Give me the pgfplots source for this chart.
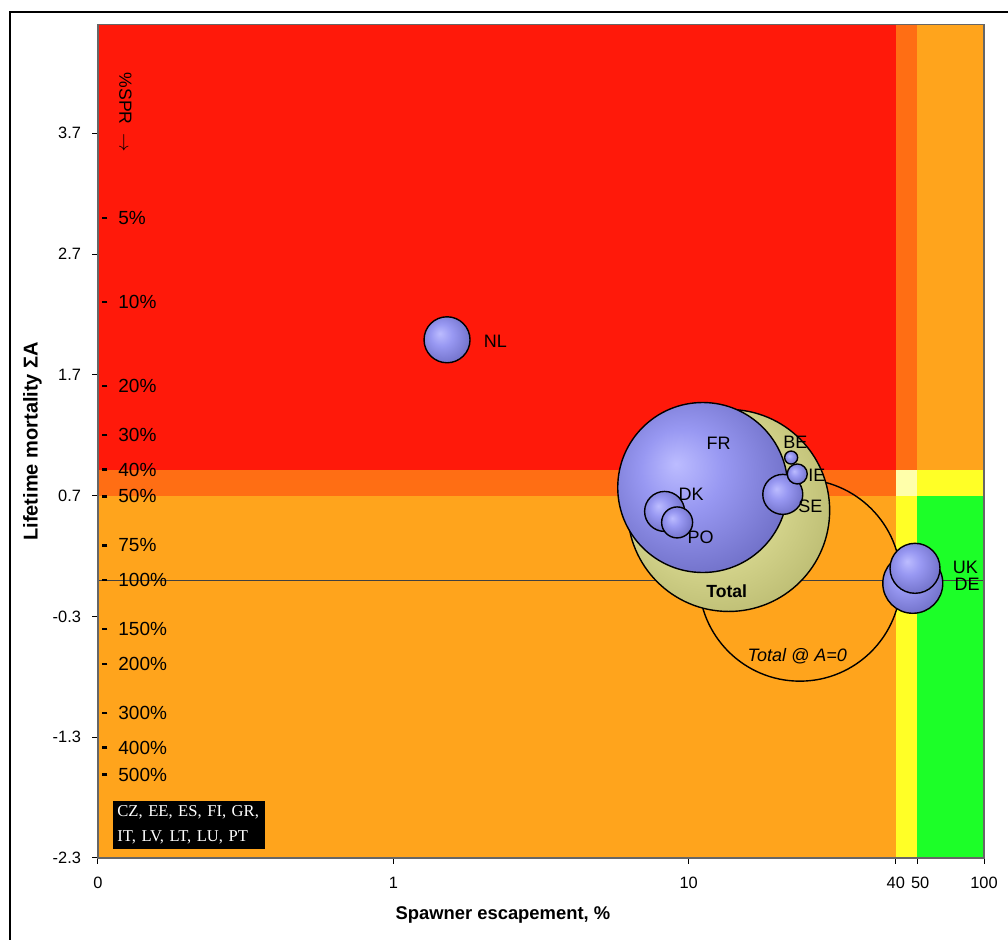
\documentclass[border=0pt]{standalone}
\usepackage{pgfplots}
\pgfplotsset{compat=1.18}
\usepackage{pgfplotstable}
\usepackage{fontspec}
\setmainfont{Liberation Sans}
\newfontfamily\boxserif{Liberation Serif}
\definecolor{cRed}{RGB}{255,25,10}
\definecolor{cOrRed}{RGB}{255,110,20}
\definecolor{cOrange}{RGB}{255,164,28}
\definecolor{cYellow}{RGB}{255,255,38}
\definecolor{cLtYellow}{RGB}{255,255,170}
\definecolor{cGreen}{RGB}{28,255,40}
\definecolor{bubHi}{RGB}{188,188,255}
\definecolor{bubMid}{RGB}{152,152,242}
\definecolor{bubEdge}{RGB}{112,112,200}
\definecolor{totHi}{RGB}{236,236,176}
\definecolor{totMid}{RGB}{220,220,148}
\definecolor{totEdge}{RGB}{186,186,112}
\pgfdeclareradialshading{bubshade}{\pgfpoint{-8bp}{7bp}}{%
  color(0bp)=(bubHi); color(12bp)=(bubMid); color(30bp)=(bubEdge); color(50bp)=(bubEdge)}
\pgfdeclareradialshading{totshade}{\pgfpoint{-8bp}{7bp}}{%
  color(0bp)=(totHi); color(14bp)=(totMid); color(32bp)=(totEdge); color(50bp)=(totEdge)}
\pgfdeclareplotmark{bubble}{%
  \pgfpathcircle{\pgfpointorigin}{\pgfplotmarksize}%
  \pgfshadepath{bubshade}{0}%
  \pgfusepath{discard}%
  \pgfsetlinewidth{0.7pt}\pgfsetstrokecolor{black}%
  \pgfpathcircle{\pgfpointorigin}{\pgfplotmarksize}%
  \pgfusepathqstroke}
\pgfdeclareplotmark{totbubble}{%
  \pgfpathcircle{\pgfpointorigin}{\pgfplotmarksize}%
  \pgfshadepath{totshade}{0}%
  \pgfusepath{discard}%
  \pgfsetlinewidth{0.7pt}\pgfsetstrokecolor{black}%
  \pgfpathcircle{\pgfpointorigin}{\pgfplotmarksize}%
  \pgfusepathqstroke}

% country bubbles: x = spawner escapement (%), y = lifetime mortality, r = bubble radius (pt)
\pgfplotstableread{
x      y      r
11.16  0.767  42.5
8.29   0.569  10
9.14   0.478  7.75
20.83  0.710  10
23.32  0.879  5
22.23  1.015  3.25
1.52   1.99   11.5
57.4  -0.026  15
58.4   0.098  12.5
}\bubbles

\begin{document}
\begin{tikzpicture}
\begin{axis}[
  scale only axis, width=443pt, height=416.75pt,
  xmode=log, xmin=0.1, xmax=100, ymin=-2.3, ymax=4.6,
  xtick={0.1,1,10,50.3,59.4,100},
  xticklabels={0,1,10,40,\hspace{3pt}50,100},
  ytick={-2.3,-1.3,-0.3,0.7,1.7,2.7,3.7},
  yticklabels={-2.3,-1.3,-0.3,0.7,1.7,2.7,3.7},
  xminorticks=false, yminorticks=false,
  tick align=outside, major tick length=3pt,
  xtick pos=bottom, ytick pos=left,
  tick style={black, line width=0.5pt},
  ticklabel style={font=\fontsize{8.2}{9}\selectfont},
  xticklabel style={yshift=-3pt},
  yticklabel style={xshift=-2pt},
  axis line style={draw=black!60, line width=0.6pt},
  axis on top,
  clip=false,
  clip marker paths=true,
  xlabel={Spawner escapement, \%},
  ylabel={Lifetime mortality ΣA},
  xlabel style={font=\bfseries\fontsize{9.2}{11}\selectfont, at={(axis description cs:0.457,-0.0684)}, anchor=center},
  ylabel style={font=\bfseries\fontsize{10}{12}\selectfont, at={(axis description cs:-0.0739,0.5)}, anchor=center},
]
% background zones
\addplot[draw=none, fill=cRed] coordinates {(0.1,0.916) (50.3,0.916) (50.3,4.6) (0.1,4.6)};
\addplot[draw=none, fill=cOrRed] coordinates {(0.1,0.693) (50.3,0.693) (50.3,0.916) (0.1,0.916)};
\addplot[draw=none, fill=cOrRed] coordinates {(50.3,0.916) (59.4,0.916) (59.4,4.6) (50.3,4.6)};
\addplot[draw=none, fill=cOrange] coordinates {(0.1,-2.3) (50.3,-2.3) (50.3,0.693) (0.1,0.693)};
\addplot[draw=none, fill=cOrange] coordinates {(59.4,0.916) (100,0.916) (100,4.6) (59.4,4.6)};
\addplot[draw=none, fill=cLtYellow] coordinates {(50.3,0.693) (59.4,0.693) (59.4,0.916) (50.3,0.916)};
\addplot[draw=none, fill=cYellow] coordinates {(50.3,-2.3) (59.4,-2.3) (59.4,0.693) (50.3,0.693)};
\addplot[draw=none, fill=cYellow] coordinates {(59.4,0.693) (100,0.693) (100,0.916) (59.4,0.916)};
\addplot[draw=none, fill=cGreen] coordinates {(59.4,-2.3) (100,-2.3) (100,0.693) (59.4,0.693)};
% A = 0 line
\addplot[black!75, line width=0.5pt] coordinates {(0.1,0) (100,0)};
% %SPR scale marks
\addplot[only marks, mark=-, mark size=1.4pt, mark options={line width=1.2pt, black}] coordinates {
 (0.1052,2.9957) (0.1052,2.3026) (0.1052,1.6094) (0.1052,1.2040) (0.1052,0.9163)
 (0.1052,0.6931) (0.1052,0.2877) (0.1052,0) (0.1052,-0.4055) (0.1052,-0.6931)
 (0.1052,-1.0986) (0.1052,-1.3863) (0.1052,-1.6094)};
\begin{scope}[every node/.style={anchor=west, inner sep=0pt, xshift=6.75pt, font=\fontsize{9.5}{10}\selectfont}]
\node at (axis cs:0.1052,2.9957) {5\%};
\node at (axis cs:0.1052,2.3026) {10\%};
\node at (axis cs:0.1052,1.6094) {20\%};
\node at (axis cs:0.1052,1.2040) {30\%};
\node at (axis cs:0.1052,0.9163) {40\%};
\node at (axis cs:0.1052,0.6931) {50\%};
\node at (axis cs:0.1052,0.2877) {75\%};
\node at (axis cs:0.1052,0) {100\%};
\node at (axis cs:0.1052,-0.4055) {150\%};
\node at (axis cs:0.1052,-0.6931) {200\%};
\node at (axis cs:0.1052,-1.0986) {300\%};
\node at (axis cs:0.1052,-1.3863) {400\%};
\node at (axis cs:0.1052,-1.6094) {500\%};
\end{scope}
\node[rotate=-90, anchor=center, inner sep=0pt, font=\fontsize{8.8}{10}\selectfont] at (axis cs:0.1239,3.872) {\%SPR\enspace$\rightarrow$};
% Total at A=0 (outline) and Total
\addplot[only marks, mark=o, mark size=50.5pt, mark options={draw=black, line width=0.7pt}] coordinates {(23.8,0)};
\addplot[only marks, mark=totbubble, mark size=50.5pt] coordinates {(13.66,0.577)};
% country bubbles
\addplot[scatter, only marks, mark=bubble,
  visualization depends on={\thisrow{r} \as \rr},
  scatter/@pre marker code/.append style={/tikz/mark size=\rr}] table[x=x, y=y] {\bubbles};
% labels
\begin{scope}[every node/.style={anchor=center, inner sep=0pt, font=\fontsize{9}{10}\selectfont}]
\node at (axis cs:2.218,1.975) {NL};
\node at (axis cs:12.64,1.131) {FR};
\node at (axis cs:22.96,1.139) {BE};
\node at (axis cs:27.17,0.867) {IE};
\node at (axis cs:25.82,0.610) {SE};
\node at (axis cs:10.2,0.7095) {DK};
\node at (axis cs:10.98,0.354) {PO};
\node at (axis cs:86.5,0.106) {UK};
\node at (axis cs:87.6,-0.035) {DE};
\node[font=\bfseries\fontsize{8.8}{10}\selectfont] at (axis cs:13.45,-0.0925) {Total};
\node[font=\itshape\fontsize{9}{10}\selectfont] at (axis cs:23.32,-0.630) {Total @ A=0};
\end{scope}
\node[anchor=north west, fill=black, text=white, inner xsep=2pt, inner ysep=2.2pt, text width=72pt, align=left,
  font=\boxserif\fontsize{8.3}{12.5}\selectfont] at (axis cs:0.1124,-1.829) {CZ, EE, ES, FI, GR,\\IT, LV, LT, LU, PT};
\end{axis}
\draw[line width=1.3pt] (-44pt,-45pt) -- (-44pt,423pt) -- (460pt,423pt);
\pgfresetboundingbox
\useasboundingbox (-49pt,-41pt) rectangle (455pt,429pt);
\end{tikzpicture}
\end{document}
